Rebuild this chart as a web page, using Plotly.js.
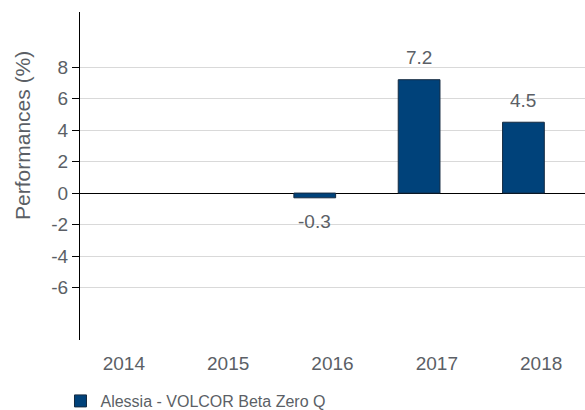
<!DOCTYPE html>
<html>
<head>
<meta charset="utf-8">
<script src="https://cdn.plot.ly/plotly-3.0.1.min.js"></script>
<style>html,body{margin:0;padding:0;background:#fff;}#chart{width:585px;height:410px;}</style>
</head>
<body>
<div id="chart"></div>
<script>
var years = ['2014', '2015', '2016', '2017', '2018'];
var performances = [null, null, -0.3, 7.2, 4.5];
var labelTexts = ['', '', '-0.3', '7.2', '4.5'];
var seriesName = 'Alessia - VOLCOR Beta Zero Q';
var yTickVals = [-6, -4, -2, 0, 2, 4, 6, 8];
var yTickText = ['-6', '-4', '-2', '0', '2', '4', '6', '8'];

var barOffset = -0.37;
var barWidth = 0.4;
var textColor = '#5b5f66';
var fontFamily = 'Liberation Sans, Arial, sans-serif';

var annotations = [];
years.forEach(function (yr, i) {
  var v = performances[i];
  if (v === null) return;
  annotations.push({
    x: i + barOffset + barWidth / 2, y: v, xref: 'x', yref: 'y',
    text: labelTexts[i], showarrow: false,
    yshift: v >= 0 ? 22 : -24,
    font: {size: 19, color: textColor, family: fontFamily}
  });
});
annotations.push({
  text: 'Performances (%)', textangle: -90, showarrow: false,
  xref: 'paper', yref: 'paper', x: -0.115, y: 0.625,
  xanchor: 'center', yanchor: 'middle',
  font: {size: 21, color: textColor, family: fontFamily}
});

var trace = {
  type: 'bar', x: years, y: performances, name: seriesName,
  offset: barOffset, width: barWidth,
  marker: {color: '#00427a', line: {color: '#142a40', width: 1}},
  showlegend: true, hoverinfo: 'none'
};

var layout = {
  width: 585, height: 410,
  margin: {l: 80, r: 0, t: 12, b: 70, autoexpand: false},
  paper_bgcolor: '#ffffff', plot_bgcolor: '#ffffff',
  font: {family: fontFamily, color: textColor, size: 19},
  showlegend: true,
  legend: {
    orientation: 'h', xref: 'container', yref: 'paper',
    x: 0.1034, y: -0.186, xanchor: 'left', yanchor: 'middle',
    font: {size: 16, color: textColor, family: fontFamily},
    bgcolor: 'rgba(0,0,0,0)'
  },
  xaxis: {
    type: 'category', range: [-0.42, 4.42],
    showgrid: false, showline: false, zeroline: false,
    ticks: '', tickfont: {size: 19, color: textColor},
    ticklabelstandoff: 10, fixedrange: true
  },
  yaxis: {
    range: [-9.33, 11.5], tickvals: yTickVals, ticktext: yTickText,
    showgrid: true, gridcolor: '#d9d9d9', gridwidth: 1,
    zeroline: true, zerolinecolor: '#000000', zerolinewidth: 1,
    showline: true, linecolor: '#000000', linewidth: 1,
    ticks: 'outside', ticklen: 7, tickcolor: '#000000',
    tickfont: {size: 19, color: textColor}, fixedrange: true
  },
  annotations: annotations
};

Plotly.newPlot('chart', [trace], layout, {displayModeBar: false, staticPlot: true});
</script>
</body>
</html>
